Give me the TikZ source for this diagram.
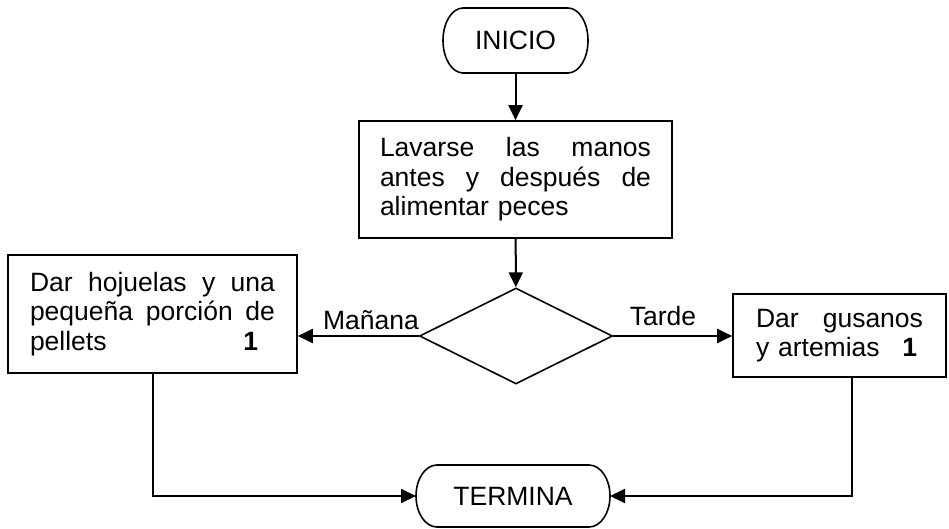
\documentclass[tikz,border=0pt]{standalone}
\usepackage{fontspec}
\setmainfont{Liberation Sans}
\usetikzlibrary{arrows.meta,shapes.geometric}
\begin{document}
\begin{tikzpicture}[x=1pt,y=-1pt,
  every node/.style={font=\fontsize{26.5}{29.5}\selectfont},
  box/.style={draw,line width=1.6pt,rectangle,inner sep=0pt},
  term/.style={rectangle,inner sep=0pt,outer sep=0pt},
  termline/.style={line width=1.6pt},
  dec/.style={draw,line width=1.6pt,diamond,inner sep=0pt},
  arr/.style={line width=2pt,-{Triangle[length=15pt,width=14pt]}},
  lbl/.style={inner sep=0pt}
]
\useasboundingbox (0,0) rectangle (949,529);
\node[term,minimum width=145pt,minimum height=65pt] (ini) at (515.5,40.5) {INICIO};
\draw[termline] ([xshift=20pt]ini.north west) -- ([xshift=-20pt]ini.north east)
  arc[start angle=90,end angle=-90,x radius=20pt,y radius=32.5pt]
  -- ([xshift=20pt]ini.south west)
  arc[start angle=270,end angle=90,x radius=20pt,y radius=32.5pt] -- cycle;
\node[box,minimum width=313pt,minimum height=117pt,text width=271pt,align=left] (lav) at (515.5,179.5)
  {Lavarse\hfill las\hfill manos\\antes\hfill y\hfill después\hfill de\\alimentar peces};
\node[dec,minimum width=193pt,minimum height=96pt] (dec) at (516,336) {};
\node[box,minimum width=289pt,minimum height=118pt,text width=245pt,align=left] (lb) at (152.5,314)
  {Dar\hfill hojuelas\hfill y\hfill una\\pequeña\hfill porción\hfill de\\pellets\hfill\textbf{1}\rule{17pt}{0pt}};
\node[box,minimum width=213pt,minimum height=83pt,text width=167pt,align=left] (rb) at (839.5,335.5)
  {Dar\hfill gusanos\\y artemias\hfill\textbf{1}\rule{6pt}{0pt}};
\node[term,minimum width=194pt,minimum height=62pt] (fin) at (513,496) {TERMINA};
\draw[termline] ([xshift=21pt]fin.north west) -- ([xshift=-21pt]fin.north east)
  arc[start angle=90,end angle=-90,x radius=21pt,y radius=31pt]
  -- ([xshift=21pt]fin.south west)
  arc[start angle=270,end angle=90,x radius=21pt,y radius=31pt] -- cycle;
\node[lbl] (lm) at (371,320) {Mañana};
\node[lbl] (lt) at (663,316) {Tarde};
\coordinate (rbc) at (852,377);
\draw[arr] (ini) -- (lav);
\draw[arr] (lav) -- (dec);
\draw[arr] (dec.west) -- (dec.west -| lb.east);
\draw[arr] (dec.east) -- (dec.east -| rb.west);
\draw[arr] (lb.south) |- (fin.west);
\draw[arr] (rbc) |- (fin.east);
\end{tikzpicture}
\end{document}
